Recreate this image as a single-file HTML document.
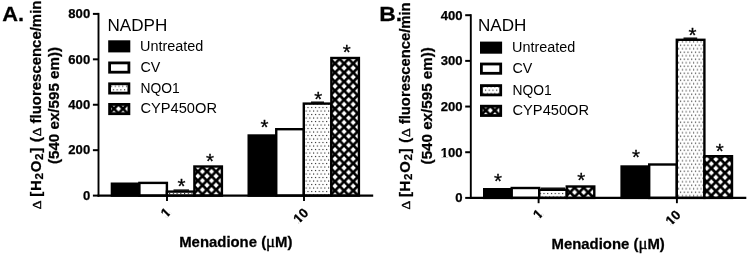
<!DOCTYPE html>
<html lang="en"><head><meta charset="utf-8"><title>Menadione H2O2 generation</title>
<style>
html,body{margin:0;padding:0;background:#fff;}
body{width:749px;height:255px;overflow:hidden;font-family:"Liberation Sans",sans-serif;}
svg{display:block;position:absolute;left:0;top:0;}
text{font-family:"Liberation Sans",sans-serif;fill:#000;}
.b{font-weight:bold;stroke:#000;stroke-width:0.25px;}
.sym{font-family:"Liberation Serif",serif;font-weight:normal;}
.symb{font-family:"Liberation Serif",serif;font-weight:normal;stroke-width:0.45px;}
</style></head><body>
<svg width="749" height="255" viewBox="0 0 749 255">

<defs>
<pattern id="d1" x="307.44" y="193.04" width="3.74" height="7.0" patternUnits="userSpaceOnUse"><rect width="3.74" height="7.0" fill="#fff"/><rect x="0" y="0" width="1.12" height="1.12" fill="#222"/><rect x="1.87" y="3.50" width="1.12" height="1.12" fill="#222"/></pattern>
<pattern id="h2" x="197.90" y="176.10" width="9.08" height="9.08" patternUnits="userSpaceOnUse"><rect width="9.08" height="9.08" fill="#000"/><path d="M0.00 -2.65L2.65 0.00L0.00 2.65L-2.65 0.00Z M9.08 -2.65L11.73 0.00L9.08 2.65L6.43 0.00Z M0.00 6.43L2.65 9.08L0.00 11.73L-2.65 9.08Z M9.08 6.43L11.73 9.08L9.08 11.73L6.43 9.08Z M4.54 1.89L7.19 4.54L4.54 7.19L1.89 4.54Z" fill="#fff"/></pattern>
<pattern id="d3" x="307.44" y="106.94" width="3.74" height="7.0" patternUnits="userSpaceOnUse"><rect width="3.74" height="7.0" fill="#fff"/><rect x="0" y="0" width="1.12" height="1.12" fill="#222"/><rect x="1.87" y="3.50" width="1.12" height="1.12" fill="#222"/></pattern>
<pattern id="h4" x="335.00" y="68.00" width="9.08" height="9.08" patternUnits="userSpaceOnUse"><rect width="9.08" height="9.08" fill="#000"/><path d="M0.00 -2.65L2.65 0.00L0.00 2.65L-2.65 0.00Z M9.08 -2.65L11.73 0.00L9.08 2.65L6.43 0.00Z M0.00 6.43L2.65 9.08L0.00 11.73L-2.65 9.08Z M9.08 6.43L11.73 9.08L9.08 11.73L6.43 9.08Z M4.54 1.89L7.19 4.54L4.54 7.19L1.89 4.54Z" fill="#fff"/></pattern>
<pattern id="d5" x="543.44" y="192.94" width="3.74" height="7.0" patternUnits="userSpaceOnUse"><rect width="3.74" height="7.0" fill="#fff"/><rect x="0" y="0" width="1.12" height="1.12" fill="#222"/><rect x="1.87" y="3.50" width="1.12" height="1.12" fill="#222"/></pattern>
<pattern id="h6" x="574.60" y="192.30" width="9.08" height="9.08" patternUnits="userSpaceOnUse"><rect width="9.08" height="9.08" fill="#000"/><path d="M0.00 -2.65L2.65 0.00L0.00 2.65L-2.65 0.00Z M9.08 -2.65L11.73 0.00L9.08 2.65L6.43 0.00Z M0.00 6.43L2.65 9.08L0.00 11.73L-2.65 9.08Z M9.08 6.43L11.73 9.08L9.08 11.73L6.43 9.08Z M4.54 1.89L7.19 4.54L4.54 7.19L1.89 4.54Z" fill="#fff"/></pattern>
<pattern id="d7" x="679.94" y="44.64" width="3.74" height="7.0" patternUnits="userSpaceOnUse"><rect width="3.74" height="7.0" fill="#fff"/><rect x="0" y="0" width="1.12" height="1.12" fill="#222"/><rect x="1.87" y="3.50" width="1.12" height="1.12" fill="#222"/></pattern>
<pattern id="h8" x="706.80" y="168.30" width="9.08" height="9.08" patternUnits="userSpaceOnUse"><rect width="9.08" height="9.08" fill="#000"/><path d="M0.00 -2.65L2.65 0.00L0.00 2.65L-2.65 0.00Z M9.08 -2.65L11.73 0.00L9.08 2.65L6.43 0.00Z M0.00 6.43L2.65 9.08L0.00 11.73L-2.65 9.08Z M9.08 6.43L11.73 9.08L9.08 11.73L6.43 9.08Z M4.54 1.89L7.19 4.54L4.54 7.19L1.89 4.54Z" fill="#fff"/></pattern>
<pattern id="d9" x="112.84" y="89.24" width="3.74" height="7.0" patternUnits="userSpaceOnUse"><rect width="3.74" height="7.0" fill="#fff"/><rect x="0" y="0" width="1.12" height="1.12" fill="#222"/><rect x="1.87" y="3.50" width="1.12" height="1.12" fill="#222"/></pattern>
<pattern id="h10" x="118.50" y="108.80" width="9.08" height="9.08" patternUnits="userSpaceOnUse"><rect width="9.08" height="9.08" fill="#000"/><path d="M0.00 -2.65L2.65 0.00L0.00 2.65L-2.65 0.00Z M9.08 -2.65L11.73 0.00L9.08 2.65L6.43 0.00Z M0.00 6.43L2.65 9.08L0.00 11.73L-2.65 9.08Z M9.08 6.43L11.73 9.08L9.08 11.73L6.43 9.08Z M4.54 1.89L7.19 4.54L4.54 7.19L1.89 4.54Z" fill="#fff"/></pattern>
<pattern id="d11" x="484.94" y="89.64" width="3.74" height="7.0" patternUnits="userSpaceOnUse"><rect width="3.74" height="7.0" fill="#fff"/><rect x="0" y="0" width="1.12" height="1.12" fill="#222"/><rect x="1.87" y="3.50" width="1.12" height="1.12" fill="#222"/></pattern>
<pattern id="h12" x="490.30" y="110.40" width="9.08" height="9.08" patternUnits="userSpaceOnUse"><rect width="9.08" height="9.08" fill="#000"/><path d="M0.00 -2.65L2.65 0.00L0.00 2.65L-2.65 0.00Z M9.08 -2.65L11.73 0.00L9.08 2.65L6.43 0.00Z M0.00 6.43L2.65 9.08L0.00 11.73L-2.65 9.08Z M9.08 6.43L11.73 9.08L9.08 11.73L6.43 9.08Z M4.54 1.89L7.19 4.54L4.54 7.19L1.89 4.54Z" fill="#fff"/></pattern>
</defs>
<rect x="111.90" y="183.70" width="27.50" height="11.90" fill="#000" stroke="#000" stroke-width="2.4"/>
<rect x="139.40" y="182.90" width="27.50" height="12.70" fill="#fff" stroke="#000" stroke-width="2.4"/>
<rect x="166.90" y="191.60" width="27.50" height="4.00" fill="url(#d1)" stroke="#000" stroke-width="2.4"/>
<rect x="194.40" y="166.50" width="27.50" height="29.10" fill="url(#h2)" stroke="#000" stroke-width="2.4"/>
<rect x="248.70" y="135.50" width="27.55" height="60.10" fill="#000" stroke="#000" stroke-width="2.4"/>
<rect x="276.25" y="129.20" width="27.55" height="66.40" fill="#fff" stroke="#000" stroke-width="2.4"/>
<rect x="303.80" y="103.60" width="27.55" height="92.00" fill="url(#d3)" stroke="#000" stroke-width="2.4"/>
<rect x="331.35" y="58.00" width="27.55" height="137.60" fill="url(#h4)" stroke="#000" stroke-width="2.4"/>
<line x1="311" y1="102.2" x2="324" y2="102.2" stroke="#000" stroke-width="1.4"/>
<line x1="173.5" y1="190.1" x2="189" y2="190.1" stroke="#000" stroke-width="1.4"/>
<line x1="98.5" y1="12.9" x2="98.5" y2="196.7" stroke="#000" stroke-width="1.9"/>
<line x1="97.6" y1="195.6" x2="373.2" y2="195.6" stroke="#000" stroke-width="2.3"/>
<line x1="92.9" y1="195.60" x2="98.5" y2="195.60" stroke="#000" stroke-width="2"/>
<text x="90.2" y="199.90" text-anchor="end" class="b" font-size="13.1">0</text>
<line x1="92.9" y1="150.18" x2="98.5" y2="150.18" stroke="#000" stroke-width="2"/>
<text x="90.2" y="154.48" text-anchor="end" class="b" font-size="13.1">200</text>
<line x1="92.9" y1="104.75" x2="98.5" y2="104.75" stroke="#000" stroke-width="2"/>
<text x="90.2" y="109.05" text-anchor="end" class="b" font-size="13.1">400</text>
<line x1="92.9" y1="59.33" x2="98.5" y2="59.33" stroke="#000" stroke-width="2"/>
<text x="90.2" y="63.63" text-anchor="end" class="b" font-size="13.1">600</text>
<line x1="92.9" y1="13.90" x2="98.5" y2="13.90" stroke="#000" stroke-width="2"/>
<text x="90.2" y="18.20" text-anchor="end" class="b" font-size="13.1">800</text>
<line x1="167" y1="195.6" x2="167" y2="200.9" stroke="#000" stroke-width="1.9"/>
<line x1="304" y1="195.6" x2="304" y2="200.9" stroke="#000" stroke-width="1.9"/>
<text x="181.5" y="193.00" text-anchor="middle" font-size="20.5" stroke="#000" stroke-width="0.3">*</text>
<text x="210" y="167.60" text-anchor="middle" font-size="20.5" stroke="#000" stroke-width="0.3">*</text>
<text x="264.4" y="134.30" text-anchor="middle" font-size="20.5" stroke="#000" stroke-width="0.3">*</text>
<text x="318.3" y="105.60" text-anchor="middle" font-size="20.5" stroke="#000" stroke-width="0.3">*</text>
<text x="346.7" y="58.60" text-anchor="middle" font-size="20.5" stroke="#000" stroke-width="0.3">*</text>
<rect x="484.20" y="189.20" width="27.52" height="8.70" fill="#000" stroke="#000" stroke-width="2.4"/>
<rect x="511.72" y="188.00" width="27.53" height="9.90" fill="#fff" stroke="#000" stroke-width="2.4"/>
<rect x="539.25" y="189.80" width="27.52" height="8.10" fill="url(#d5)" stroke="#000" stroke-width="2.4"/>
<rect x="566.77" y="186.50" width="27.52" height="11.40" fill="url(#h6)" stroke="#000" stroke-width="2.4"/>
<rect x="621.60" y="166.50" width="27.60" height="31.40" fill="#000" stroke="#000" stroke-width="2.4"/>
<rect x="649.20" y="164.50" width="27.60" height="33.40" fill="#fff" stroke="#000" stroke-width="2.4"/>
<rect x="676.80" y="39.80" width="27.60" height="158.10" fill="url(#d7)" stroke="#000" stroke-width="2.4"/>
<rect x="704.40" y="156.20" width="27.60" height="41.70" fill="url(#h8)" stroke="#000" stroke-width="2.4"/>
<line x1="683.5" y1="38.2" x2="697.2" y2="38.2" stroke="#000" stroke-width="1.4"/>
<line x1="541" y1="188.2" x2="565" y2="188.2" stroke="#000" stroke-width="1.4"/>
<line x1="470.8" y1="14.2" x2="470.8" y2="199.0" stroke="#000" stroke-width="1.9"/>
<line x1="469.90000000000003" y1="197.9" x2="746.3" y2="197.9" stroke="#000" stroke-width="2.3"/>
<line x1="465.2" y1="197.90" x2="470.8" y2="197.90" stroke="#000" stroke-width="2"/>
<text x="462.5" y="202.20" text-anchor="end" class="b" font-size="13.1">0</text>
<line x1="465.2" y1="152.22" x2="470.8" y2="152.22" stroke="#000" stroke-width="2"/>
<text x="462.5" y="156.53" text-anchor="end" class="b" font-size="13.1">100</text>
<g transform="translate(462.5 156.53)" fill="#fff"><rect x="-21.46" y="-1.64" width="2.25" height="2.14"/><rect x="-16.51" y="-1.64" width="2.23" height="2.14"/></g>
<line x1="465.2" y1="106.55" x2="470.8" y2="106.55" stroke="#000" stroke-width="2"/>
<text x="462.5" y="110.85" text-anchor="end" class="b" font-size="13.1">200</text>
<line x1="465.2" y1="60.88" x2="470.8" y2="60.88" stroke="#000" stroke-width="2"/>
<text x="462.5" y="65.17" text-anchor="end" class="b" font-size="13.1">300</text>
<line x1="465.2" y1="15.20" x2="470.8" y2="15.20" stroke="#000" stroke-width="2"/>
<text x="462.5" y="19.50" text-anchor="end" class="b" font-size="13.1">400</text>
<line x1="538.6" y1="197.9" x2="538.6" y2="203.20000000000002" stroke="#000" stroke-width="1.9"/>
<line x1="676.9" y1="197.9" x2="676.9" y2="203.20000000000002" stroke="#000" stroke-width="1.9"/>
<text x="498" y="187.50" text-anchor="middle" font-size="20.5" stroke="#000" stroke-width="0.3">*</text>
<text x="581.2" y="187.10" text-anchor="middle" font-size="20.5" stroke="#000" stroke-width="0.3">*</text>
<text x="636" y="163.90" text-anchor="middle" font-size="20.5" stroke="#000" stroke-width="0.3">*</text>
<text x="692.5" y="41.60" text-anchor="middle" font-size="20.5" stroke="#000" stroke-width="0.3">*</text>
<text x="719.7" y="157.80" text-anchor="middle" font-size="20.5" stroke="#000" stroke-width="0.3">*</text>
<text transform="translate(2.2 21.2) scale(1.04 1)" class="b" font-size="21">A.</text>
<text transform="translate(379.3 21.2) scale(1.09 1)" class="b" font-size="21">B.</text>
<text transform="translate(107.5 30.5) scale(1.068 1)" font-size="16">NADPH</text>
<rect x="108.2" y="40.3" width="22.1" height="12.1" fill="#000"/>
<text transform="translate(140.0 51.4) scale(1.03 1)" font-size="14">Untreated</text>
<rect x="109.60000000000001" y="62.9" width="19.3" height="9.3" fill="#fff" stroke="#000" stroke-width="2.8"/>
<text transform="translate(140.4 72.2) scale(1.02 1)" font-size="14">CV</text>
<rect x="109.60000000000001" y="83.80000000000001" width="19.3" height="9.3" fill="url(#d9)" stroke="#000" stroke-width="2.8"/>
<text transform="translate(140.4 92.6) scale(0.99 1)" font-size="14">NQO1</text>
<rect x="109.60000000000001" y="104.4" width="19.3" height="9.3" fill="url(#h10)" stroke="#000" stroke-width="2.8"/>
<text transform="translate(140.4 113.2) scale(1.048 1)" font-size="14">CYP450OR</text>
<text transform="translate(478.0 30.5) scale(1.068 1)" font-size="16">NADH</text>
<rect x="480.0" y="41.6" width="22.1" height="12.1" fill="#000"/>
<text transform="translate(512.1 52.3) scale(1.03 1)" font-size="14">Untreated</text>
<rect x="481.4" y="64.0" width="19.3" height="9.3" fill="#fff" stroke="#000" stroke-width="2.8"/>
<text transform="translate(512.5 73.3) scale(1.02 1)" font-size="14">CV</text>
<rect x="481.4" y="85.60000000000001" width="19.3" height="9.3" fill="url(#d11)" stroke="#000" stroke-width="2.8"/>
<text transform="translate(512.5 94.7) scale(0.99 1)" font-size="14">NQO1</text>
<rect x="481.4" y="106.2" width="19.3" height="9.3" fill="url(#h12)" stroke="#000" stroke-width="2.8"/>
<text transform="translate(512.5 114.8) scale(1.048 1)" font-size="14">CYP450OR</text>
<text transform="translate(179.2 247.2) scale(1.05 1)" class="b" font-size="14.2">Menadione (<tspan class="sym" font-size="16" stroke-width="0.35">μ</tspan>M)</text>
<text transform="translate(551.5 249.0) scale(1.05 1)" class="b" font-size="14.2">Menadione (<tspan class="sym" font-size="16" stroke-width="0.35">μ</tspan>M)</text>
<text transform="translate(171.5 213.2) rotate(-45)" text-anchor="end" class="b" font-size="13.4">1</text>
<g transform="translate(171.5 213.2) rotate(-45)" fill="#fff"><rect x="-7.05" y="-1.68" width="2.30" height="2.17"/><rect x="-1.98" y="-1.68" width="2.28" height="2.17"/></g>
<text transform="translate(309.3 213.7) rotate(-45)" text-anchor="end" class="b" font-size="13.4">10</text>
<g transform="translate(309.3 213.7) rotate(-45)" fill="#fff"><rect x="-14.50" y="-1.68" width="2.30" height="2.17"/><rect x="-9.43" y="-1.68" width="2.28" height="2.17"/></g>
<text transform="translate(543.7 214.8) rotate(-45)" text-anchor="end" class="b" font-size="13.4">1</text>
<g transform="translate(543.7 214.8) rotate(-45)" fill="#fff"><rect x="-7.05" y="-1.68" width="2.30" height="2.17"/><rect x="-1.98" y="-1.68" width="2.28" height="2.17"/></g>
<text transform="translate(681.6 215.8) rotate(-45)" text-anchor="end" class="b" font-size="13.4">10</text>
<g transform="translate(681.6 215.8) rotate(-45)" fill="#fff"><rect x="-14.50" y="-1.68" width="2.30" height="2.17"/><rect x="-9.43" y="-1.68" width="2.28" height="2.17"/></g>
<text transform="translate(40.6 104.95) rotate(-90) scale(1.038 1)" text-anchor="middle" class="b" font-size="14.4"><tspan class="symb" font-size="13.2">Δ</tspan><tspan letter-spacing="0.72" dx="-1.1"> [H<tspan font-size="11.2" dy="2">2</tspan><tspan dy="-2">O</tspan><tspan font-size="11.2" dy="2">2</tspan><tspan dy="-2">] (</tspan></tspan><tspan class="symb" font-size="13.2" letter-spacing="0.72">Δ </tspan>fluorescence/min</text>
<text transform="translate(59.3 105.5) rotate(-90) scale(1.062 1)" text-anchor="middle" class="b" font-size="14.3">(540 ex/595 em))</text>
<text transform="translate(410.1 105.95) rotate(-90) scale(1.03 1)" text-anchor="middle" class="b" font-size="14.4"><tspan class="symb" font-size="13.2">Δ</tspan><tspan letter-spacing="0.72" dx="-1.1"> [H<tspan font-size="11.2" dy="2">2</tspan><tspan dy="-2">O</tspan><tspan font-size="11.2" dy="2">2</tspan><tspan dy="-2">] (</tspan></tspan><tspan class="symb" font-size="13.2" letter-spacing="0.72">Δ </tspan>fluorescence/min</text>
<text transform="translate(431.6 105.8) rotate(-90) scale(1.062 1)" text-anchor="middle" class="b" font-size="14.3">(540 ex/595 em))</text>
</svg>
</body></html>
